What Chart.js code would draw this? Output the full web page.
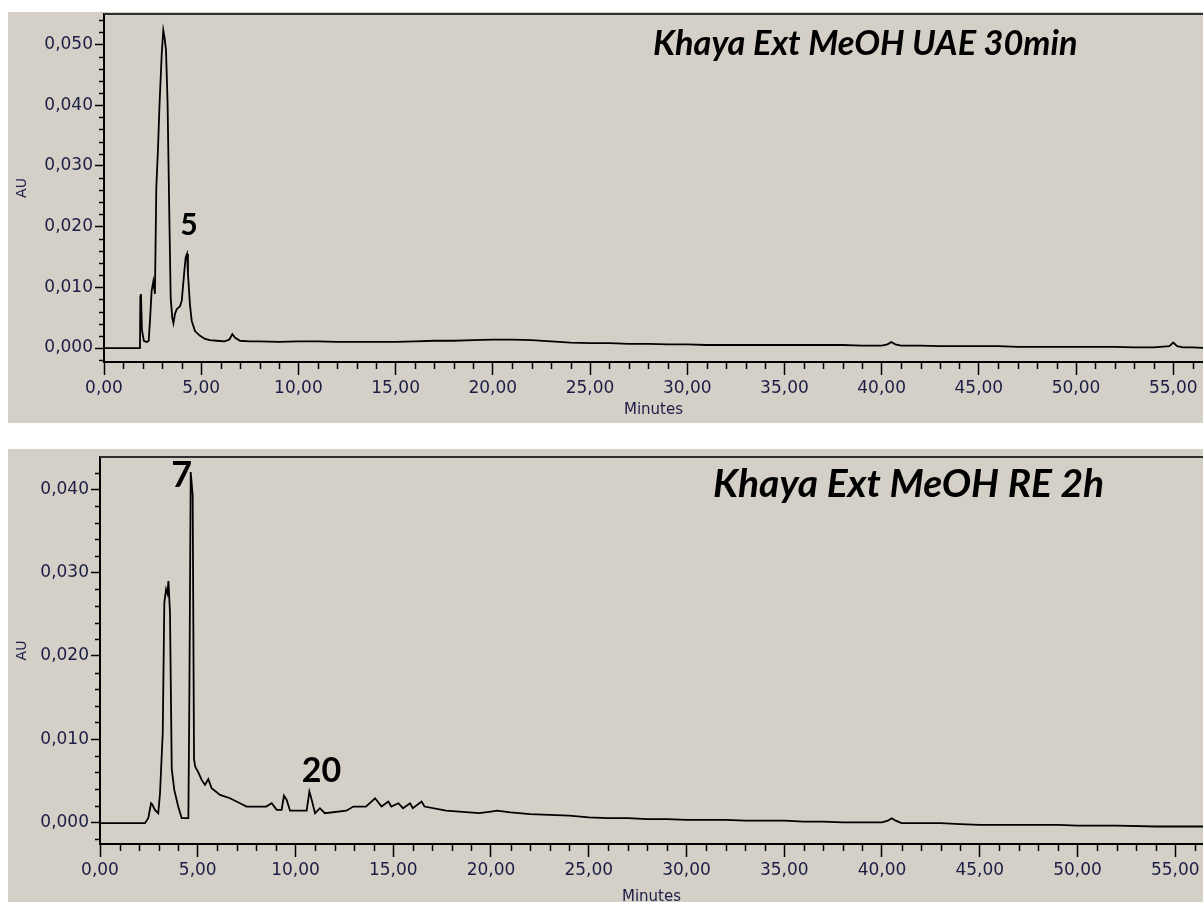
<!DOCTYPE html>
<html>
<head>
<meta charset="utf-8">
<title>Khaya Ext MeOH chromatograms</title>
<script src="https://cdn.jsdelivr.net/npm/chart.js@4.4.1/dist/chart.umd.min.js"></script>
<style>
  html, body { margin: 0; padding: 0; background: #fff; overflow: hidden; }
  .panel { position: absolute; left: 8px; width: 1195px; background: #d4d0c8; }
  #panelUae { top: 12px; height: 411px; }
  #panelRe { top: 449px; height: 464px; }
</style>
</head>
<body>
<div class="panel" id="panelUae"><canvas id="uaeChart"></canvas></div>
<div class="panel" id="panelRe"><canvas id="reChart"></canvas></div>
<script>
// UAE 30 min run: retention time (min) and absorbance (AU)
const uaeMinutes = [0, 1.85, 1.87, 1.9, 1.95, 2.05, 2.2, 2.3, 2.37, 2.45, 2.54, 2.62, 2.69, 2.78, 2.85, 2.97, 3.05, 3.12, 3.19, 3.27, 3.36, 3.43, 3.51, 3.57, 3.65, 3.74, 3.91, 4.0, 4.12, 4.2, 4.27, 4.32, 4.42, 4.51, 4.68, 4.94, 5.2, 5.45, 5.8, 6.2, 6.45, 6.6, 6.75, 7.0, 7.5, 8, 9, 10, 11, 12, 13, 14, 15, 16, 17, 18, 19, 20, 21, 22, 23, 24, 25, 26, 27, 28, 29, 30, 31, 32, 33, 34, 35, 36, 37, 38, 39, 40, 40.3, 40.5, 40.7, 41, 42, 43, 44, 45, 46, 47, 48, 49, 50, 51, 52, 53, 54, 54.8, 55, 55.2, 55.5, 56, 56.6];
const uaeAU = [0, 0, 0.0085, 0.0089, 0.0030, 0.0012, 0.0010, 0.0012, 0.0048, 0.0094, 0.0110, 0.0089, 0.0264, 0.0330, 0.0396, 0.0485, 0.0523, 0.0510, 0.0490, 0.0404, 0.0218, 0.0083, 0.0050, 0.0041, 0.0056, 0.0064, 0.0069, 0.0078, 0.0122, 0.0149, 0.0155, 0.0122, 0.0072, 0.0045, 0.0028, 0.0020, 0.0015, 0.0013, 0.0012, 0.0011, 0.0014, 0.0023, 0.0017, 0.0012, 0.0011, 0.0011, 0.0010, 0.0011, 0.0011, 0.0010, 0.0010, 0.0010, 0.0010, 0.0011, 0.0012, 0.0012, 0.0013, 0.0014, 0.0014, 0.0013, 0.0011, 0.0009, 0.0008, 0.0008, 0.0007, 0.0007, 0.0006, 0.0006, 0.0005, 0.0005, 0.0005, 0.0005, 0.0005, 0.0005, 0.0005, 0.0005, 0.0004, 0.0004, 0.0006, 0.0010, 0.0006, 0.0004, 0.0004, 0.0003, 0.0003, 0.0003, 0.0003, 0.0002, 0.0002, 0.0002, 0.0002, 0.0002, 0.0002, 0.0001, 0.0001, 0.0003, 0.0009, 0.0003, 0.0001, 0.0001, 0.0000];

// RE 2 h run
const reMinutes = [0, 1.0, 2.0, 2.3, 2.47, 2.61, 2.66, 2.81, 2.98, 3.07, 3.21, 3.29, 3.38, 3.45, 3.50, 3.58, 3.67, 3.80, 4.00, 4.18, 4.52, 4.57, 4.64, 4.74, 4.81, 4.87, 5.03, 5.2, 5.37, 5.54, 5.71, 6.14, 6.65, 7.16, 7.5, 8.5, 8.78, 9.04, 9.29, 9.41, 9.55, 9.72, 10.57, 10.71, 10.83, 11.0, 11.25, 11.5, 12.6, 12.96, 13.6, 14.07, 14.4, 14.75, 14.9, 15.26, 15.5, 15.86, 16.0, 16.45, 16.6, 17.7, 19.4, 20.0, 20.3, 21, 22, 23, 24, 25, 26, 27, 28, 29, 30, 31, 32, 33, 34, 35, 36, 37, 38, 39, 40, 40.3, 40.5, 40.7, 41, 42, 43, 44, 45, 46, 47, 48, 49, 50, 52, 54, 56.5];
const reAU = [-0.0001, -0.0001, -0.0001, -0.0001, 0.0005, 0.0023, 0.0022, 0.0015, 0.0011, 0.0035, 0.0108, 0.0264, 0.0280, 0.0275, 0.0290, 0.0252, 0.0064, 0.0039, 0.0019, 0.0005, 0.0005, 0.0146, 0.0421, 0.0393, 0.0076, 0.0067, 0.0060, 0.0051, 0.0045, 0.0052, 0.0041, 0.0033, 0.0029, 0.0023, 0.0019, 0.0019, 0.0023, 0.0015, 0.0015, 0.0032, 0.0027, 0.0014, 0.0014, 0.0037, 0.0027, 0.0011, 0.0017, 0.0011, 0.0014, 0.0019, 0.0019, 0.0029, 0.0019, 0.0025, 0.0019, 0.0023, 0.0017, 0.0023, 0.0017, 0.0025, 0.0019, 0.0014, 0.0011, 0.0013, 0.0014, 0.0012, 0.0010, 0.0009, 0.0008, 0.0006, 0.0005, 0.0005, 0.0004, 0.0004, 0.0003, 0.0003, 0.0003, 0.0002, 0.0002, 0.0002, 0.0001, 0.0001, 0.0000, 0.0000, 0.0000, 0.0002, 0.0005, 0.0002, -0.0001, -0.0001, -0.0001, -0.0002, -0.0003, -0.0003, -0.0003, -0.0003, -0.0003, -0.0004, -0.0004, -0.0005, -0.0005];

// numbered peaks (label text + the retention time it sits on)
const uaePeakLabels = ["5"];
const uaePeakMinutes = [4.27];
const rePeakLabels = ["7", "20"];
const rePeakMinutes = [4.64, 10.71];

const axisColor = "#1c1c44";
const tickFont = { family: "DejaVu Sans", size: 17 };

function comma(v, digits) {
    return v.toFixed(digits).replace(".", ",");
}

// short ticks every minute / every 0.002 AU, plus the top frame line
const minorTicks = {
    id: "minorTicks",
    afterDraw(chart) {
        const { ctx, chartArea } = chart;
        const x = chart.scales.x, y = chart.scales.y;
        ctx.save();
        ctx.strokeStyle = "#000";
        ctx.lineWidth = 1.5;
        ctx.beginPath();
        for (let t = Math.ceil(x.min); t <= x.max; t++) {
            if (t % 5 === 0) continue;
            const px = Math.round(x.getPixelForValue(t)) + 0.5;
            ctx.moveTo(px, x.top);
            ctx.lineTo(px, x.top + 7);
        }
        for (let k = Math.ceil(y.min / 0.002); k * 0.002 <= y.max; k++) {
            if (k % 5 === 0) continue;
            const py = Math.round(y.getPixelForValue(k * 0.002)) + 0.5;
            ctx.moveTo(y.right - 5, py);
            ctx.lineTo(y.right, py);
        }
        ctx.stroke();
        ctx.lineWidth = 2;
        ctx.strokeStyle = "#303030";
        ctx.beginPath();
        ctx.moveTo(chartArea.left, chartArea.top);
        ctx.lineTo(chartArea.right, chartArea.top);
        ctx.stroke();
        ctx.restore();
    }
};

// run name and peak numbers
const chartText = {
    id: "chartText",
    afterDatasetsDraw(chart, args, opts) {
        const { ctx, chartArea } = chart;
        const x = chart.scales.x, y = chart.scales.y;
        const ds = chart.data.datasets[0].data;
        ctx.save();
        ctx.fillStyle = "#000";
        ctx.textAlign = "left";
        ctx.textBaseline = "alphabetic";
        ctx.font = "italic 700 " + opts.titleSize + "px Lato";
        ctx.fillText(opts.title, chartArea.left + opts.titleDx, chartArea.top + opts.titleDy);
        ctx.textAlign = "center";
        ctx.textBaseline = "middle";
        opts.labels.forEach((txt, i) => {
            const pt = ds.find(p => p.x === opts.minutes[i]);
            const off = opts.offsets[i];
            ctx.font = "700 " + off[2] + "px Lato";
            ctx.fillText(txt, x.getPixelForValue(pt.x) + off[0], y.getPixelForValue(pt.y) + off[1]);
        });
        ctx.restore();
    }
};

function buildChart(canvasId, minutes, au, cfg) {
    const ctx = document.getElementById(canvasId).getContext("2d");
    return new Chart(ctx, {
        type: "line",
        data: {
            datasets: [{
                data: minutes.map((t, i) => ({ x: t, y: au[i] })),
                borderColor: "#000",
                borderWidth: 1.8,
                pointRadius: 0,
                tension: 0,
                fill: false
            }]
        },
        options: {
            responsive: true,
            maintainAspectRatio: false,
            animation: false,
            layout: { padding: { top: cfg.padTop, right: 0, left: 0, bottom: 0 } },
            plugins: {
                legend: { display: false },
                tooltip: { enabled: false },
                chartText: cfg.text
            },
            scales: {
                x: {
                    type: "linear",
                    min: 0,
                    max: cfg.xMax,
                    afterFit: s => {
                        s.height = cfg.xHeight;
                        s.paddingLeft = 0;
                        s.paddingRight = 0;
                    },
                    ticks: {
                        stepSize: 5,
                        includeBounds: false,
                        autoSkip: false,
                        maxRotation: 0,
                        padding: 3,
                        color: axisColor,
                        font: tickFont,
                        callback: v => comma(v, 2)
                    },
                    grid: { drawOnChartArea: false, tickLength: 13, tickColor: "#000", tickWidth: 1.5 },
                    border: { color: "#000", width: 2 },
                    title: {
                        display: true,
                        text: "Minutes",
                        color: axisColor,
                        font: { family: "DejaVu Sans", size: 15 },
                        padding: { top: 0, bottom: cfg.minutesPad }
                    }
                },
                y: {
                    min: cfg.yMin,
                    max: cfg.yMax,
                    afterFit: s => {
                        s.width = cfg.yWidth;
                        s.paddingTop = 0;
                        s.paddingBottom = 0;
                    },
                    ticks: {
                        stepSize: 0.01,
                        includeBounds: false,
                        padding: 2,
                        color: axisColor,
                        font: tickFont,
                        callback: v => comma(v, 3)
                    },
                    grid: { drawOnChartArea: false, tickLength: 9, tickColor: "#000", tickWidth: 1.5 },
                    border: { color: "#000", width: 2 },
                    title: {
                        display: true,
                        text: "AU",
                        color: axisColor,
                        font: { family: "DejaVu Sans", size: 14 },
                        padding: { top: 6, bottom: 0 }
                    }
                }
            }
        },
        plugins: [minorTicks, chartText]
    });
}

buildChart("uaeChart", uaeMinutes, uaeAU, {
    padTop: 2, xHeight: 61, yWidth: 96, minutesPad: 4,
    xMax: 56.53, yMin: -0.0023, yMax: 0.0550,
    text: {
        title: "Khaya Ext MeOH UAE 30min", titleSize: 34.3, titleDx: 549, titleDy: 41,
        labels: uaePeakLabels, minutes: uaePeakMinutes,
        offsets: [[2, -29, 30]]
    }
});

buildChart("reChart", reMinutes, reAU, {
    padTop: 8, xHeight: 69, yWidth: 92, minutesPad: 7,
    xMax: 56.42, yMin: -0.0026, yMax: 0.0439,
    text: {
        title: "Khaya Ext MeOH RE 2h", titleSize: 39, titleDx: 613, titleDy: 40,
        labels: rePeakLabels, minutes: rePeakMinutes,
        offsets: [[-9, 3, 36], [12, -21, 34]]
    }
});
</script>
</body>
</html>
